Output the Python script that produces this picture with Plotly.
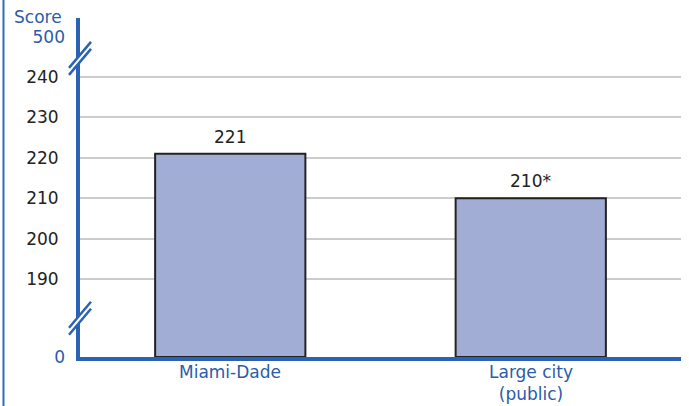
import plotly.graph_objects as go

category_lines = [["Miami-Dade"], ["Large city", "(public)"]]
categories = [" ".join(lines) for lines in category_lines]
scores = [221, 210]
bar_labels = ["221", "210*"]
grid_ticks = [190, 200, 210, 220, 230, 240]
grid_tick_labels = ["190", "200", "210", "220", "230", "240"]
break_ticks_labels = ["0", "500"]

# display scale of the broken axis: 0 shown at 170.7, 500 shown at 250
ZERO_POS = 170.7
TOP_POS = 250.0
Y_RANGE = [170.7, 254.6]

BLUE = "#2a63b3"
TXT_BLUE = "#2b5ca8"
FONT = "DejaVu Sans"

fig = go.Figure()
fig.add_trace(go.Bar(
    x=categories,
    y=[s - ZERO_POS for s in scores],
    base=ZERO_POS,
    width=0.5,
    marker=dict(color="#a2add6", line=dict(color="#222222", width=2)),
    showlegend=False,
))
# invisible trace for second y axis (0 / 500 labels)
fig.add_trace(go.Scatter(x=categories, y=[None, None], yaxis="y2", showlegend=False,
                         hoverinfo="skip"))

annotations = [dict(
    text="Score", xref="paper", yref="paper", x=0, y=1,
    xshift=-42, yshift=1, xanchor="center", yanchor="middle",
    showarrow=False, font=dict(family=FONT, size=17, color=TXT_BLUE),
)]
for c, s, t in zip(categories, scores, bar_labels):
    annotations.append(dict(
        text=t, x=c, y=s, xref="x", yref="y", xanchor="center", yanchor="bottom",
        yshift=5, showarrow=False, font=dict(family=FONT, size=17, color="#222222"),
    ))
# category labels
for c, lines in zip(categories, category_lines):
    annotations.append(dict(
        text="<br>".join(lines), x=c, y=0, xref="x", yref="paper",
        xanchor="center", yanchor="top", yshift=-3, showarrow=False,
        font=dict(family=FONT, size=17, color=TXT_BLUE),
    ))

fig.update_layout(
    width=689, height=406,
    margin=dict(l=80, r=8, t=18, b=49),
    paper_bgcolor="white", plot_bgcolor="white",
    font=dict(family=FONT),
    xaxis=dict(
        range=[-0.5, 1.5], automargin=False,
        showline=True, linecolor=BLUE, linewidth=4,
        showgrid=False, ticks="", showticklabels=False,
        fixedrange=True,
    ),
    yaxis=dict(
        range=Y_RANGE, automargin=False,
        tickvals=grid_ticks, ticktext=grid_tick_labels,
        showgrid=True, gridcolor="#cccccc", gridwidth=2,
        showline=True, linecolor=BLUE, linewidth=4,
        ticks="", zeroline=False,
        tickfont=dict(family=FONT, size=17, color="#222222"),
        ticklabelstandoff=14,
    ),
    yaxis2=dict(
        range=Y_RANGE, overlaying="y", side="left", automargin=False,
        tickvals=[ZERO_POS, TOP_POS], ticktext=break_ticks_labels,
        showgrid=False, showline=False, zeroline=False, ticks="",
        tickfont=dict(family=FONT, size=17, color=TXT_BLUE),
        ticklabelstandoff=14,
    ),
    annotations=annotations,
)

shapes = []
# left page border
shapes.append(dict(type="line", xref="paper", yref="paper",
                   x0=-0.1273, x1=-0.1273, y0=-1, y1=2,
                   line=dict(color="#2f6bbf", width=2), layer="above"))
# axis break marks
for yv in [244.6, 180.3]:
    shapes.append(dict(type="line", xref="paper", yref="y", xsizemode="pixel", ysizemode="pixel",
                       xanchor=0, yanchor=yv, x0=-11, x1=11, y0=-13, y1=13,
                       line=dict(color="white", width=5), layer="above"))
    for off in (-3.5, 3.5):
        shapes.append(dict(type="line", xref="paper", yref="y", xsizemode="pixel", ysizemode="pixel",
                           xanchor=0, yanchor=yv, x0=-11, x1=11, y0=-13 + off, y1=13 + off,
                           line=dict(color=BLUE, width=2.5), layer="above"))
fig.update_layout(shapes=shapes)

fig.write_html(
    "out.html",
    config={"displayModeBar": False},
    post_script="document.body.style.margin='0';document.body.style.overflow='hidden';",
)
